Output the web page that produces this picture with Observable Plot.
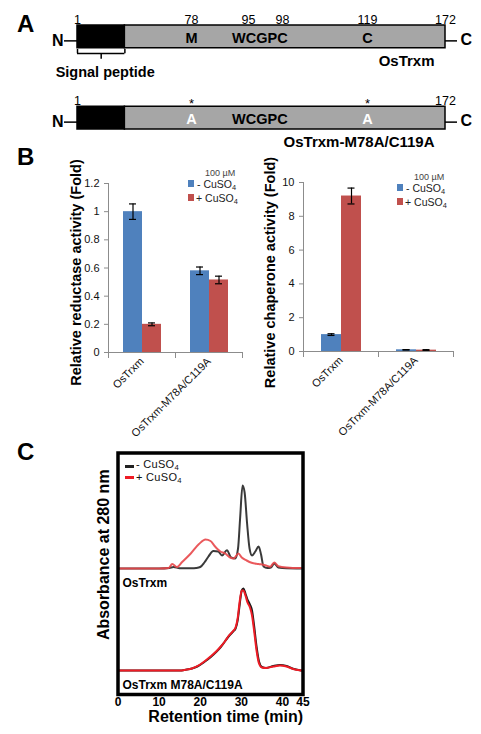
<!DOCTYPE html>
<html><head><meta charset="utf-8">
<script src="https://cdn.jsdelivr.net/npm/d3@7"></script>
<script src="https://cdn.jsdelivr.net/npm/@observablehq/plot@0.6"></script>
<style>
html,body{margin:0;padding:0;background:#fff;}
#page{position:relative;width:481px;height:734px;overflow:hidden;font-family:"Liberation Sans",Arial,Helvetica,sans-serif;color:#000;background:#fff;}
.abs{position:absolute;}
.abs svg{overflow:visible;}
.panel{position:absolute;font-weight:bold;font-size:24px;line-height:1;}
.leg{position:absolute;line-height:1;white-space:nowrap;color:#222;}
.sq{position:absolute;width:6px;height:7px;}
.dash{position:absolute;width:9px;height:3px;}
.sub{font-size:70%;vertical-align:-1.5px;line-height:0;}
</style></head><body><div id="page"></div>
<script>
// ---------------- DATA ----------------
// Panel A: domain structure
const constructs = ["OsTrxm", "OsTrxm-M78A/C119A"];
const signalPeptideEnd = 33;
const proteinLength = 172;
const wtNumbers = [1, 78, 95, 98, 119, 172];
const mutNumbers = [1, 172];
const wtMotifs = [{pos: 78, label: "M"}, {pos: 96, label: "WCGPC"}, {pos: 119, label: "C"}];
const mutMotifs = [{pos: 78, label: "A", mutated: true}, {pos: 96, label: "WCGPC", mutated: false}, {pos: 119, label: "A", mutated: true}];
const mutatedSites = [78, 119];

// Panel B: activities
const proteins = ["OsTrxm", "OsTrxm-M78A/C119A"];
const treatments = ["- CuSO\u2084", "+ CuSO\u2084"];
const reductaseMinus = [1.00, 0.58];
const reductaseMinusErr = [0.055, 0.027];
const reductasePlus = [0.20, 0.515];
const reductasePlusErr = [0.01, 0.027];
const reductaseTicks = [0, 0.2, 0.4, 0.6, 0.8, 1, 1.2];
const chaperoneMinus = [1.0, 0.10];
const chaperoneMinusErr = [0.05, 0.01];
const chaperonePlus = [9.2, 0.08];
const chaperonePlusErr = [0.47, 0.03];
const chaperoneTicks = [0, 2, 4, 6, 8, 10];

// Panel C: SEC chromatograms [time (min), A280 (a.u.)]
const osTrxmMinus = [[0,0],[10,0],[12.5,0.5],[13.5,1.5],[15,0.3],[18,0.2],[19,0.5],[20,1.5],[21,6],[22,12],[23.2,17.5],[24.4,17],[25.3,13],[26.5,18.3],[27.5,11],[28.5,10],[29.2,20],[29.7,50],[30.3,83],[30.8,76],[31.4,45],[32,20],[32.6,13],[33.4,17],[34.2,22],[34.8,14],[35.4,2],[36.3,0.5],[37.2,1],[38,5],[39,1],[40,0.5],[45,0]];
const osTrxmPlus = [[0,0],[10,0],[12.3,0.5],[13.2,4.5],[14.3,1.5],[15.6,6.5],[17.7,15],[19.7,24.5],[21.3,29],[22.5,27.5],[23.5,22.5],[24.9,17],[26.1,15],[27.3,11],[28.1,10],[29.3,15],[30.1,11],[31.3,8],[32.5,5.7],[34.2,4.5],[35.8,3.3],[37,1.7],[38,6],[39,2.3],[41,1],[44,0.5],[45,0.5]];
const mutMinus = [[0,0],[15,0],[16.5,0.8],[18,2],[19.3,4],[21,8.5],[22.5,13.3],[24,19],[24.9,23],[26,29],[26.9,34],[28,39],[28.6,42],[29.1,50],[29.6,66],[30.1,80],[30.5,82],[31,77],[31.5,71],[32.1,66],[32.6,60],[33.1,45],[33.7,24],[34.3,9],[35,3.5],[36,2.5],[37.8,4.5],[39.4,5.5],[41,4.5],[42.6,1.7],[44.2,0.3],[45,0]];
const mutPlus = [[0,0],[15,0],[16.5,0.8],[18,2],[19.3,4.3],[21,9],[22.5,14],[24,19.5],[24.9,23.5],[26,29],[26.9,34.5],[28,39.5],[28.6,43],[29.1,52],[29.6,69],[30.1,80],[30.5,80],[31,75],[31.5,68],[32.1,63],[32.6,55],[33.1,40],[33.7,20],[34.3,7],[35,3],[36,2.5],[37.8,4],[39.4,5],[41,4],[42.6,1.5],[44.2,0.3],[45,0]];
const timeTicks = [0, 10, 20, 30, 40, 45];
const chromGroups = ["OsTrxm", "OsTrxm M78A/C119A"];

// ---------------- STYLE / LAYOUT ----------------
const FONT = '"Liberation Sans", Arial, Helvetica, sans-serif';
const BLUE = "#4f81bd", RED = "#c0504d", AXIS = "#8c8c8c";
const STACK_OFFSET = 102;
const page = document.getElementById("page");
function place(node, left, top) {
  const d = document.createElement("div");
  d.className = "abs"; d.style.left = left + "px"; d.style.top = top + "px";
  d.appendChild(node); page.appendChild(d);
}
function html(s) { page.insertAdjacentHTML("beforeend", s); }

// panel letters
html('<div class="panel" style="left:17px;top:12px">A</div>');
html('<div class="panel" style="left:17px;top:145px">B</div>');
html('<div class="panel" style="left:17px;top:440px">C</div>');

// ---------------- PANEL A ----------------
const regions = constructs.flatMap(c => [
  {construct: c, start: 1, end: signalPeptideEnd, kind: "signal"},
  {construct: c, start: signalPeptideEnd, end: proteinLength, kind: "mature"}
]);
const numbers = [
  ...wtNumbers.map(p => ({construct: constructs[0], pos: p})),
  ...mutNumbers.map(p => ({construct: constructs[1], pos: p}))
];
const motifs = [
  ...wtMotifs.map(m => ({construct: constructs[0], ...m, mutated: false})),
  ...mutMotifs.map(m => ({construct: constructs[1], ...m}))
];
const asterisks = mutatedSites.map(p => ({construct: constructs[1], pos: p}));
const bracketEnds = [1, signalPeptideEnd].map(p => ({construct: constructs[0], pos: p}));
const bracketMid = [{construct: constructs[0], pos: (1 + signalPeptideEnd) / 2}];

const plotA = Plot.plot({
  width: 481, height: 150,
  style: {fontFamily: FONT, background: "transparent", overflow: "visible"},
  x: {type: "linear", domain: [0, 1, 78, 95, 98, 119, 172, 173], range: [64, 77, 191, 248, 282, 367, 445, 457], axis: null},
  y: {type: "band", domain: constructs, range: [25, 129], paddingInner: 0.72, paddingOuter: 0, round: false, axis: null},
  marks: [
    Plot.ruleY(constructs, {y: d => d, x1: 0, x2: 1, stroke: "black", strokeWidth: 1.5, dy: 4}),
    Plot.ruleY(constructs, {y: d => d, x1: proteinLength, x2: 173, stroke: "black", strokeWidth: 1.5, dy: 4}),
    Plot.barX(regions, {y: "construct", x1: "start", x2: "end", fill: d => d.kind === "signal" ? "black" : "#a6a6a6", stroke: "black", strokeWidth: 1.5}),
    Plot.text(constructs, {y: d => d, x: 0, text: () => "N", textAnchor: "end", dx: -1, dy: 4, fontSize: 16, fontWeight: "bold"}),
    Plot.text(constructs, {y: d => d, x: 173, text: () => "C", textAnchor: "start", dx: 3, dy: 3, fontSize: 16, fontWeight: "bold"}),
    Plot.text(numbers, {x: "pos", y: "construct", text: d => String(d.pos), dy: -17, fontSize: 12.5}),
    Plot.text(asterisks, {x: "pos", y: "construct", text: () => "*", dy: -14, fontSize: 13}),
    Plot.text(motifs, {x: "pos", y: "construct", text: "label", fill: d => d.mutated ? "white" : "black", fontSize: 14.5, fontWeight: "bold", dy: 1.5}),
    Plot.text(constructs, {y: d => d, x: proteinLength, text: d => d, textAnchor: "end", dx: -11, dy: 24.5, fontSize: 15, fontWeight: "bold"}),
    Plot.ruleY([constructs[0]], {y: d => d, x1: 1, x2: signalPeptideEnd, dy: 16.5, stroke: "black", strokeWidth: 1.5}),
    Plot.tickX(bracketEnds, {x: "pos", y: "construct", dy: 24, insetBottom: 18.5, stroke: "black", strokeWidth: 1.5}),
    Plot.tickX(bracketMid, {x: "pos", y: "construct", dy: 28, insetBottom: 17, stroke: "black", strokeWidth: 1.5}),
    Plot.text([constructs[0]], {y: d => d, x: (1 + signalPeptideEnd) / 2, text: () => "Signal peptide", dy: 35.5, dx: 4, fontSize: 14.5, fontWeight: "bold"})
  ]
});
place(plotA, 0, 0);

// ---------------- PANEL B ----------------
function barChart({minus, minusErr, plus, plusErr, ticks, yMax, label, width, height, mTop, mBottom, mLeft, mRight, capInset, xPadOuter, labelDx, labelDy}) {
  const rows = [];
  proteins.forEach((p, i) => {
    rows.push({protein: p, treatment: treatments[0], value: minus[i], err: minusErr[i]});
    rows.push({protein: p, treatment: treatments[1], value: plus[i], err: plusErr[i]});
  });
  const innerH = height - mTop - mBottom;
  return Plot.plot({
    width, height, marginTop: mTop, marginBottom: mBottom, marginLeft: mLeft, marginRight: mRight,
    style: {fontFamily: FONT, background: "transparent", overflow: "visible"},
    fx: {domain: proteins, padding: 0, label: null},
    x: {domain: treatments, paddingInner: 0, paddingOuter: xPadOuter, axis: null},
    y: {domain: [0, yMax]},
    color: {domain: treatments, range: [BLUE, RED]},
    marks: [
      Plot.barY(rows, {fx: "protein", x: "treatment", y: "value", fill: "treatment"}),
      Plot.ruleX(rows, {fx: "protein", x: "treatment", y1: d => d.value - d.err, y2: d => d.value + d.err, stroke: "black", strokeWidth: 1.2}),
      Plot.tickY(rows, {fx: "protein", x: "treatment", y: d => d.value + d.err, insetLeft: capInset, insetRight: capInset, stroke: "black", strokeWidth: 1.2}),
      Plot.tickY(rows, {fx: "protein", x: "treatment", y: d => d.value - d.err, insetLeft: capInset, insetRight: capInset, stroke: "black", strokeWidth: 1.2}),
      Plot.ruleY([0], {stroke: AXIS}),
      Plot.frame({anchor: "left", facetAnchor: "left", stroke: AXIS}),
      Plot.frame({anchor: "left", insetTop: innerH, insetBottom: -5, stroke: AXIS}),
      Plot.frame({anchor: "right", insetTop: innerH, insetBottom: -5, stroke: AXIS}),
      Plot.axisY({ticks, tickSize: 4, tickPadding: 5, fontSize: 11, stroke: AXIS, fill: "#111", label: null, tickFormat: d => String(d)}),
      Plot.axisFx({anchor: "bottom", tickRotate: -45, tickSize: 0, tickPadding: 7, fontSize: 11, fill: "#111", label: null}),
      Plot.text([label], {frameAnchor: "left", facetAnchor: "left", rotate: -90, textAnchor: "middle", lineAnchor: "middle", dx: labelDx, dy: labelDy, text: d => d, fontSize: 14.5, fontWeight: "bold"})
    ]
  });
}
const plotB1 = barChart({minus: reductaseMinus, minusErr: reductaseMinusErr, plus: reductasePlus, plusErr: reductasePlusErr,
  ticks: reductaseTicks, yMax: 1.2, label: "Relative reductase activity (Fold)",
  width: 250, height: 250, mTop: 33, mBottom: 48, mLeft: 108, mRight: 8, capInset: 6, xPadOuter: 0.72, labelDx: -32, labelDy: 4.5});
place(plotB1, 0, 150);
const plotB2 = barChart({minus: chaperoneMinus, minusErr: chaperoneMinusErr, plus: chaperonePlus, plusErr: chaperonePlusErr,
  ticks: chaperoneTicks, yMax: 10, label: "Relative chaperone activity (Fold)",
  width: 241, height: 250, mTop: 32, mBottom: 49, mLeft: 63, mRight: 28, capInset: 6.5, xPadOuter: 0.83, labelDx: -33, labelDy: 5.5});
place(plotB2, 240, 150);

// legends panel B
function legendB(x, y) {
  html(`<div class="leg" style="left:${x + 17}px;top:${y - 9}px;font-size:9px;color:#444">100 \u00b5M</div>`);
  html(`<div class="sq" style="left:${x}px;top:${y + 2}px;background:${BLUE}"></div>`);
  html(`<div class="leg" style="left:${x + 9}px;top:${y + 1}px;font-size:10.5px">- CuSO<span class="sub">4</span></div>`);
  html(`<div class="sq" style="left:${x}px;top:${y + 16}px;background:${RED}"></div>`);
  html(`<div class="leg" style="left:${x + 8}px;top:${y + 15}px;font-size:10.5px">+ CuSO<span class="sub">4</span></div>`);
}
legendB(188, 178);
legendB(397, 182);

// ---------------- PANEL C ----------------
const chromSeries = [
  {group: chromGroups[0], treatment: "minus", pts: osTrxmMinus, stroke: "#3a3a3a", opacity: 1},
  {group: chromGroups[0], treatment: "plus", pts: osTrxmPlus, stroke: "#e8474a", opacity: 0.9},
  {group: chromGroups[1], treatment: "minus", pts: mutMinus, stroke: "#1a1a1a", opacity: 1},
  {group: chromGroups[1], treatment: "plus", pts: mutPlus, stroke: "#ee1c25", opacity: 1}
];
const groupOffset = g => g === chromGroups[0] ? STACK_OFFSET : 0;
const chromRows = chromSeries.flatMap(s => s.pts.map(([t, a]) => ({t, a, key: s.group + "|" + s.treatment, group: s.group, stroke: s.stroke, opacity: s.opacity})));

const plotC = Plot.plot({
  width: 330, height: 304, marginLeft: 117.5, marginRight: 27.5, marginTop: 22.5, marginBottom: 40,
  style: {fontFamily: FONT, background: "transparent", overflow: "visible", fontWeight: "bold"},
  x: {domain: [0, 45]},
  y: {domain: [-24, 217.5], axis: null},
  marks: [
    Plot.line(chromRows, {x: "t", y: d => d.a + groupOffset(d.group), z: "key", stroke: d => d.stroke, strokeOpacity: d => d.opacity, strokeWidth: 2, curve: "monotone-x"}),
    Plot.text(chromGroups, {x: () => 0, y: d => groupOffset(d), text: d => d, textAnchor: "start", dx: 4.5, dy: 14.5, fontSize: 12, fontWeight: "bold"}),
    Plot.frame({stroke: "black", strokeWidth: 3.5}),
    Plot.axisX({ticks: timeTicks, tickSize: 0, tickPadding: 3, fontSize: 12, fontWeight: "bold", label: null, tickFormat: d => String(d)}),
    Plot.text(["Retention time (min)"], {frameAnchor: "bottom-right", textAnchor: "end", lineAnchor: "middle", dy: 22, text: d => d, fontSize: 16, fontWeight: "bold"}),
    Plot.text(["Absorbance at 280 nm"], {frameAnchor: "left", rotate: -90, textAnchor: "middle", lineAnchor: "middle", dx: -14.5, dy: -19, text: d => d, fontSize: 16, fontWeight: "bold"})
  ]
});
place(plotC, 0, 430);

// legend panel C
html(`<div class="dash" style="left:125px;top:465px;background:#222"></div>`);
html(`<div class="leg" style="left:136px;top:459px;font-size:11px;letter-spacing:0.3px;color:#111">- CuSO<span class="sub">4</span></div>`);
html(`<div class="dash" style="left:125px;top:476px;background:#ee1c25"></div>`);
html(`<div class="leg" style="left:136px;top:472px;font-size:11px;letter-spacing:0.3px;color:#111">+ CuSO<span class="sub">4</span></div>`);
</script>
</body></html>
